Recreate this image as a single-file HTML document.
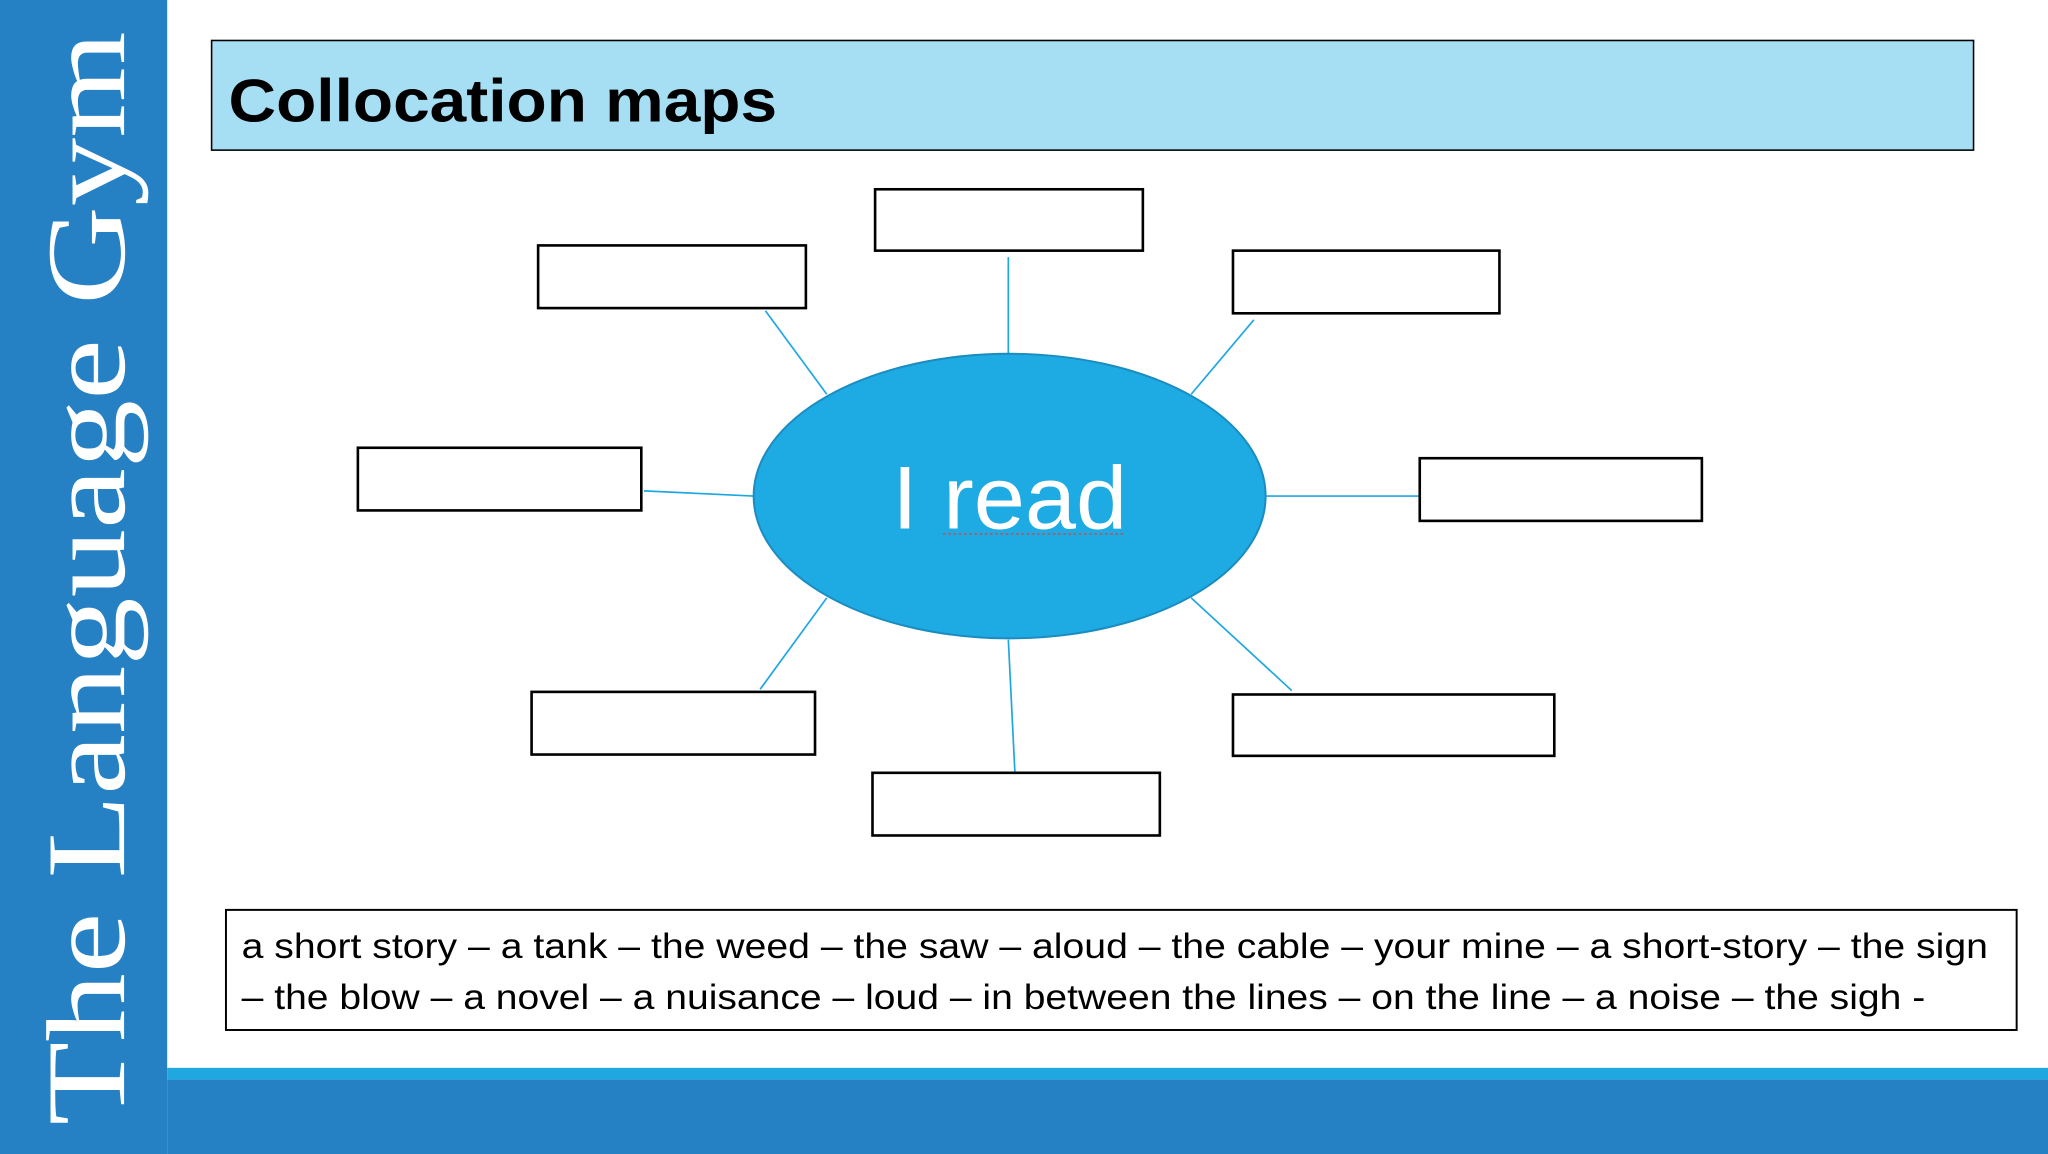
<!DOCTYPE html>
<html><head><meta charset="utf-8"><style>
html,body{margin:0;padding:0;background:#fff;overflow:hidden}
svg{display:block}
</style></head><body>
<svg width="2048" height="1154" viewBox="0 0 1568 884" preserveAspectRatio="none" xmlns="http://www.w3.org/2000/svg">
<rect x="0" y="0" width="1568" height="884" fill="#fff"/>
<rect x="0" y="0" width="128" height="884" fill="#2580c4"/>
<rect x="128" y="818" width="1440" height="9" fill="#1fa8e0"/>
<rect x="128" y="827" width="1440" height="57" fill="#2580c4"/>
<text transform="translate(95,862) rotate(-90)" font-family="Liberation Serif, serif" font-size="86" fill="#fff" textLength="838" lengthAdjust="spacingAndGlyphs">The Language Gym</text>
<rect x="162" y="31" width="1349" height="84" fill="#a6def4" stroke="#000" stroke-width="1.2"/>
<text x="175" y="93" font-family="Liberation Sans, sans-serif" font-weight="bold" font-size="46" fill="#000" textLength="420" lengthAdjust="spacingAndGlyphs">Collocation maps</text>
<g stroke="#1fa8e0" stroke-width="1.3">
<line x1="772" y1="197" x2="772" y2="271"/>
<line x1="586" y1="238" x2="633" y2="302"/>
<line x1="960" y1="245" x2="912" y2="302"/>
<line x1="493" y1="376" x2="577" y2="380"/>
<line x1="969" y1="380" x2="1087" y2="380"/>
<line x1="633" y1="458" x2="582" y2="528"/>
<line x1="912" y1="458" x2="989" y2="529"/>
<line x1="772" y1="490" x2="777" y2="591"/>
</g>
<ellipse cx="773" cy="380" rx="196" ry="109" fill="#1eaae2" stroke="#1a8cc0" stroke-width="1.5"/>
<text x="773" y="405" text-anchor="middle" font-family="Liberation Sans, sans-serif" font-size="68" fill="#fff" textLength="180" lengthAdjust="spacingAndGlyphs">I read</text>
<line x1="722" y1="409" x2="862" y2="409" stroke="#e04040" stroke-width="1" stroke-dasharray="2,2"/>
<g fill="#fff" stroke="#000" stroke-width="2">
<rect x="670" y="145" width="205" height="47"/>
<rect x="412" y="188" width="205" height="48"/>
<rect x="944" y="192" width="204" height="48"/>
<rect x="274" y="343" width="217" height="48"/>
<rect x="1087" y="351" width="216" height="48"/>
<rect x="407" y="530" width="217" height="48"/>
<rect x="944" y="532" width="246" height="47"/>
<rect x="668" y="592" width="220" height="48"/>
</g>
<rect x="173" y="697" width="1371" height="92" fill="#fff" stroke="#000" stroke-width="1.5"/>
<g font-family="Liberation Sans, sans-serif" font-size="27" fill="#000">
<text x="185" y="734" textLength="1337" lengthAdjust="spacingAndGlyphs">a short story – a tank – the weed – the saw – aloud – the cable – your mine – a short-story – the sign</text>
<text x="185" y="773" textLength="1289" lengthAdjust="spacingAndGlyphs">– the blow – a novel – a nuisance – loud – in between the lines – on the line – a noise – the sigh -</text>
</g>
</svg>
</body></html>
